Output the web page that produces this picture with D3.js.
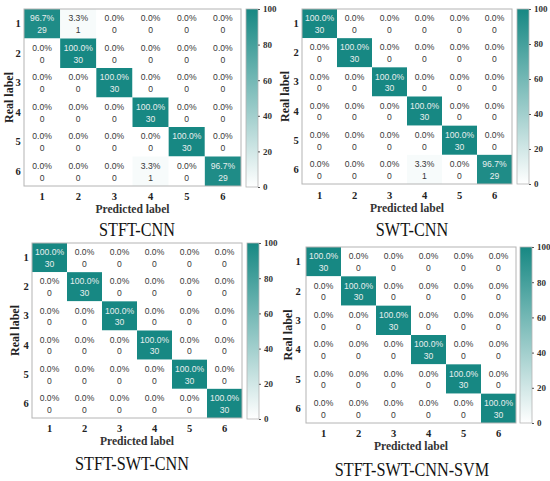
<!DOCTYPE html>
<html lang="en">
<head>
<meta charset="UTF-8">
<title>Confusion matrices</title>
<style>
  * { margin: 0; }
  body { width: 550px; height: 481px; background: #fff; overflow: hidden; }
  svg { display: block; }
</style>
</head>
<body>
<svg id="chart" width="550" height="481"></svg>
<script src="https://cdn.jsdelivr.net/npm/d3@7"></script>
<script>
// data
const classes = ["1", "2", "3", "4", "5", "6"];
const colorTicks = [0, 20, 40, 60, 80, 100];
const titles = ["STFT-CNN", "SWT-CNN", "STFT-SWT-CNN", "STFT-SWT-CNN-SVM"];

// counts, rows = real label, cols = predicted label
const stftCnn = [
  [29, 1, 0, 0, 0, 0],
  [0, 30, 0, 0, 0, 0],
  [0, 0, 30, 0, 0, 0],
  [0, 0, 0, 30, 0, 0],
  [0, 0, 0, 0, 30, 0],
  [0, 0, 0, 1, 0, 29]
];
const swtCnn = [
  [30, 0, 0, 0, 0, 0],
  [0, 30, 0, 0, 0, 0],
  [0, 0, 30, 0, 0, 0],
  [0, 0, 0, 30, 0, 0],
  [0, 0, 0, 0, 30, 0],
  [0, 0, 0, 1, 0, 29]
];
const stftSwtCnn = [
  [30, 0, 0, 0, 0, 0],
  [0, 30, 0, 0, 0, 0],
  [0, 0, 30, 0, 0, 0],
  [0, 0, 0, 30, 0, 0],
  [0, 0, 0, 0, 30, 0],
  [0, 0, 0, 0, 0, 30]
];
const stftSwtCnnSvm = [
  [30, 0, 0, 0, 0, 0],
  [0, 30, 0, 0, 0, 0],
  [0, 0, 30, 0, 0, 0],
  [0, 0, 0, 30, 0, 0],
  [0, 0, 0, 0, 30, 0],
  [0, 0, 0, 0, 0, 30]
];
const matrices = [stftCnn, swtCnn, stftSwtCnn, stftSwtCnnSvm];

// panel layout (matrix box, colorbar, label positions)
const panels = [
  { x0: 24, x1: 241, y0: 9, y1: 186, cbx: 246, cby0: 9, cby1: 187, yt: 18, yl: 9, xt: 200, xl: 213, tx: 137, ty: 236 },
  { x0: 302, x1: 512, y0: 9, y1: 184, cbx: 517, cby0: 9, cby1: 184, yt: 296, yl: 285, xt: 199, xl: 212, tx: 412, ty: 236 },
  { x0: 32, x1: 242, y0: 243, y1: 418, cbx: 247, cby0: 243, cby1: 419, yt: 26, yl: 15, xt: 432, xl: 445, tx: 132, ty: 470 },
  { x0: 306, x1: 516, y0: 247, y1: 423, cbx: 520, cby0: 247, cby1: 423, yt: 298, yl: 288, xt: 437, xl: 450, tx: 412, ty: 476 }
];

const teal = "#178883";
const color = d3.scaleLinear().domain([0, 100]).range(["#ffffff", teal]);
const serif = "'Liberation Serif', 'Times New Roman', serif";
const sans = "'Liberation Sans', Arial, sans-serif";

const svg = d3.select("#chart");

const defs = svg.append("defs");
const grad = defs.append("linearGradient")
  .attr("id", "cbgrad")
  .attr("x1", 0).attr("y1", 1).attr("x2", 0).attr("y2", 0);
colorTicks.forEach(t => {
  grad.append("stop").attr("offset", t / 100).attr("stop-color", color(t));
});

panels.forEach((p, k) => {
  const m = matrices[k];
  const g = svg.append("g");

  const x = d3.scaleBand().domain(classes).range([p.x0, p.x1]);
  const y = d3.scaleBand().domain(classes).range([p.y0, p.y1]);

  const cells = [];
  m.forEach((row, i) => {
    const total = d3.sum(row);
    row.forEach((v, j) => {
      cells.push({ r: classes[i], c: classes[j], n: v, pct: 100 * v / total });
    });
  });

  g.append("g").selectAll("rect")
    .data(cells)
    .join("rect")
    .attr("x", d => x(d.c))
    .attr("y", d => y(d.r))
    .attr("width", x.bandwidth())
    .attr("height", y.bandwidth())
    .attr("fill", d => color(d.pct));

  const txt = g.append("g")
    .attr("font-family", sans)
    .attr("font-size", 8.6)
    .attr("text-anchor", "middle")
    .selectAll("text")
    .data(cells)
    .join("text")
    .attr("x", d => x(d.c) + x.bandwidth() / 2)
    .attr("fill", d => d.pct > 50 ? "#e8eeee" : "#383838");
  txt.append("tspan")
    .attr("x", d => x(d.c) + x.bandwidth() / 2)
    .attr("y", d => y(d.r) + y.bandwidth() * 0.42)
    .text(d => d.pct.toFixed(1) + "%");
  txt.append("tspan")
    .attr("x", d => x(d.c) + x.bandwidth() / 2)
    .attr("y", d => y(d.r) + y.bandwidth() * 0.82)
    .text(d => d.n);

  // matrix frame
  g.append("rect")
    .attr("x", p.x0).attr("y", p.y0)
    .attr("width", p.x1 - p.x0).attr("height", p.y1 - p.y0)
    .attr("fill", "none")
    .attr("stroke", "#b4b4b4")
    .attr("stroke-width", 1);

  // tick labels
  g.append("g").selectAll("text")
    .data(classes)
    .join("text")
    .attr("x", p.yt)
    .attr("y", d => y(d) + y.bandwidth() / 2 + 3.5)
    .attr("text-anchor", "middle")
    .attr("font-family", serif)
    .attr("font-weight", "bold")
    .attr("font-size", 10.5)
    .attr("fill", "#222")
    .text(d => d);

  g.append("g").selectAll("text")
    .data(classes)
    .join("text")
    .attr("x", d => x(d) + x.bandwidth() / 2)
    .attr("y", p.xt)
    .attr("text-anchor", "middle")
    .attr("font-family", serif)
    .attr("font-weight", "bold")
    .attr("font-size", 10.5)
    .attr("fill", "#222")
    .text(d => d);

  g.append("text")
    .attr("x", (p.x0 + p.x1) / 2)
    .attr("y", p.xl)
    .attr("text-anchor", "middle")
    .attr("font-family", serif)
    .attr("font-weight", "bold")
    .attr("font-size", 11.6)
    .attr("fill", "#333")
    .text("Predicted label");

  g.append("text")
    .attr("transform", `translate(${p.yl + 4},${(p.y0 + p.y1) / 2}) rotate(-90)`)
    .attr("text-anchor", "middle")
    .attr("font-family", serif)
    .attr("font-weight", "bold")
    .attr("font-size", 12)
    .attr("fill", "#222")
    .text("Real label");

  // title (source glyphs are a bit narrower than Times)
  g.append("text")
    .attr("transform", `translate(${p.tx},${p.ty}) scale(0.9,1)`)
    .attr("text-anchor", "middle")
    .attr("font-family", serif)
    .attr("font-size", 18)
    .attr("fill", "#111")
    .text(titles[k]);

  // colorbar
  const cbw = 12;
  const cs = d3.scaleLinear().domain([0, 100]).range([p.cby1, p.cby0]);
  g.append("rect")
    .attr("x", p.cbx).attr("y", p.cby0)
    .attr("width", cbw).attr("height", p.cby1 - p.cby0)
    .attr("fill", "url(#cbgrad)")
    .attr("stroke", "#b4b4b4")
    .attr("stroke-width", 0.8);

  const axis = d3.axisRight(cs).tickValues(colorTicks).tickSize(2).tickPadding(3);
  const ag = g.append("g")
    .attr("transform", `translate(${p.cbx + cbw},0)`)
    .call(axis);
  ag.select(".domain").remove();
  ag.selectAll("line").attr("stroke", "#555");
  ag.selectAll("text")
    .attr("font-family", serif)
    .attr("font-weight", "bold")
    .attr("font-size", 9)
    .attr("fill", "#333");
});
</script>
</body>
</html>
